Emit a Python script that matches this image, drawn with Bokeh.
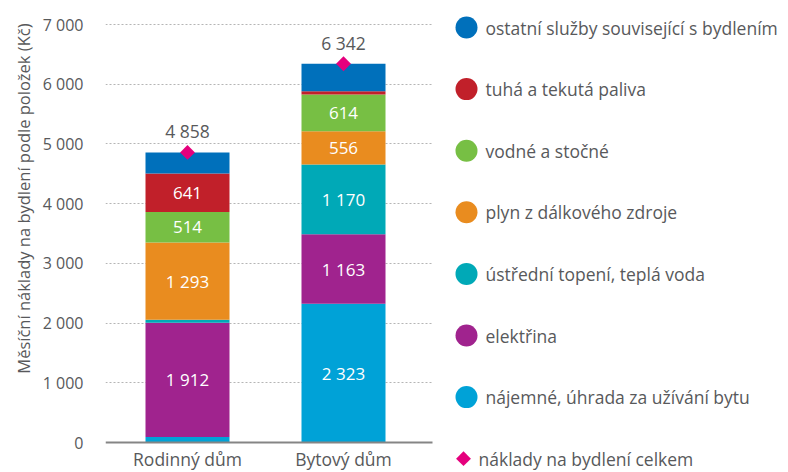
import math
from bokeh.plotting import figure
from bokeh.models import Range1d, FixedTicker, ColumnDataSource, Title
from bokeh.core.properties import value
from bokeh.embed import file_html
from bokeh.resources import INLINE

# ---------------- data ----------------
categories = ["Rodinný dům", "Bytový dům"]
series_names = [
    "nájemné, úhrada za užívání bytu",
    "elektřina",
    "ústřední topení, teplá voda",
    "plyn z dálkového zdroje",
    "vodné a stočné",
    "tuhá a tekutá paliva",
    "ostatní služby související s bydlením",
]
najemne = [93, 2323]
elektrina = [1912, 1163]
ustredni_topeni = [50, 1170]
plyn = [1293, 556]
vodne = [514, 614]
tuha_paliva = [641, 55]
ostatni = [355, 461]
totals = [4858, 6342]
total_name = "náklady na bydlení celkem"
y_ticks = [0, 1000, 2000, 3000, 4000, 5000, 6000, 7000]
y_title = "Měsíční náklady na bydlení podle položek (Kč)"

series_values = [najemne, elektrina, ustredni_topeni, plyn, vodne, tuha_paliva, ostatni]
colors = ["#00a2d7", "#a0238e", "#00a9b7", "#e98c1f", "#77bf44", "#c1202a", "#0070bb"]
total_color = "#e5007d"
text_color = "#58595b"
FONT = "Open Sans"


def fmt(v):
    return f"{v:,}".replace(",", " ")


# ---------------- layout (pixels) ----------------
W, H = 788, 472
FRAME_L = 105                        # frame left edge (px)
Y_TOP_PX = 24                        # pixel row of the top tick value
Y0_PX = 442                          # pixel row of value 0
CAT_PX = 156                         # pixels per category
CHART_R = 432                        # right end of the plotting area (px)
Y_MAX = 7000
px_per_val = (Y0_PX - Y_TOP_PX) / Y_MAX
x_start = 0.5 - (187 - FRAME_L) / CAT_PX
x_end = x_start + (W - FRAME_L) / CAT_PX
y_start = -(H - Y0_PX) / px_per_val
y_end = Y0_PX / px_per_val


def xd(px):
    return x_start + (px - FRAME_L) / CAT_PX


def yd(py):
    return (Y0_PX - py) / px_per_val


# ---------------- chart ----------------
xs = [i + 0.5 for i in range(len(categories))]
keys = [f"s{i}" for i in range(len(series_names))]
data = {"x": xs}
for k, vals in zip(keys, series_values):
    data[k] = vals
src = ColumnDataSource(data)

p = figure(width=W, height=H, output_backend="svg", toolbar_location=None,
           x_range=Range1d(x_start, x_end), y_range=Range1d(y_start, y_end),
           min_border_left=FRAME_L, min_border_right=0, min_border_top=0,
           min_border_bottom=0)
p.outline_line_color = None
p.background_fill_color = "white"
p.border_fill_color = "white"

# grid lines (restricted to the chart area)
g = p.ygrid[0]
g.ticker = FixedTicker(ticks=y_ticks[1:])
g.grid_line_color = "#b5b5b5"
g.grid_line_dash = "2 2"
g.grid_line_width = 1
p.xgrid.grid_line_color = None
if "cross_bounds" in g.properties():
    g.cross_bounds = (x_start, xd(CHART_R))
else:
    g.grid_line_color = None
    gy = y_ticks[1:]
    p.segment(x0=[x_start] * len(gy), x1=[xd(CHART_R)] * len(gy), y0=gy, y1=gy,
              line_color="#b5b5b5", line_dash="2 2", line_width=1)

p.vbar_stack(keys, x="x", width=84 / CAT_PX, color=colors, line_color=None, source=src)

# base line
p.segment(x0=[x_start], x1=[xd(CHART_R)], y0=[0], y1=[0], line_color="#858585", line_width=2)

# segment labels
lx, ly, lt = [], [], []
for ci in range(len(categories)):
    base = 0
    for vals in series_values:
        v = vals[ci]
        if v >= 500:
            lx.append(xs[ci])
            ly.append(base + v / 2)
            lt.append(fmt(v))
        base += v
p.text(x=lx, y=ly, text=lt, text_color="white", text_font=value(FONT),
       text_font_size="17px", text_align="center", text_baseline="middle")

# totals
p.scatter(x=xs, y=totals, marker="square", angle=math.pi / 4, size=10.5,
          color=total_color, line_color=None)
p.text(x=xs, y=totals, text=[fmt(t) for t in totals], text_color=text_color,
       text_font=value(FONT), text_font_size="17.5px", text_align="center",
       text_baseline="bottom", y_offset=-9)

# category labels
p.text(x=xs, y=[0] * len(xs), text=categories, text_color=text_color,
       text_font=value(FONT), text_font_size="17.5px", text_align="center",
       text_baseline="bottom", y_offset=28)

# axes
p.xaxis.visible = False
p.yaxis.ticker = FixedTicker(ticks=y_ticks)
p.yaxis.major_label_overrides = {t: fmt(t) for t in y_ticks}
p.yaxis.axis_line_color = None
p.yaxis.major_tick_line_color = None
p.yaxis.major_tick_out = 0
p.yaxis.major_tick_in = 0
p.yaxis.minor_tick_line_color = None
p.yaxis.major_label_text_font = FONT
p.yaxis.major_label_text_font_size = "16px"
p.yaxis.major_label_text_color = text_color
p.yaxis.major_label_standoff = 22

p.add_layout(Title(text=y_title, align="right", offset=23, standoff=9,
                   text_font=FONT, text_font_size="16.5px", text_font_style="normal",
                   text_color=text_color), "left")

# ---------------- legend ----------------
leg_names = list(reversed(series_names))
leg_colors = list(reversed(colors))
row_px = [27 + 61.6 * i for i in range(len(leg_names) + 1)]
leg_y = [yd(v) for v in row_px]

p.scatter(x=[xd(466)] * len(leg_names), y=leg_y[:len(leg_names)], marker="circle", size=22,
          color=leg_colors, line_color=None)
p.scatter(x=[xd(463)], y=[leg_y[-1]], marker="square", angle=math.pi / 4, size=10.5,
          color=total_color, line_color=None)
p.text(x=[xd(485)] * len(leg_names) + [xd(478)], y=leg_y, text=leg_names + [total_name],
       text_color=text_color, text_font=value(FONT), text_font_size="17.5px",
       text_align="left", text_baseline="middle")

open("out.html", "w").write(file_html(p, INLINE))
